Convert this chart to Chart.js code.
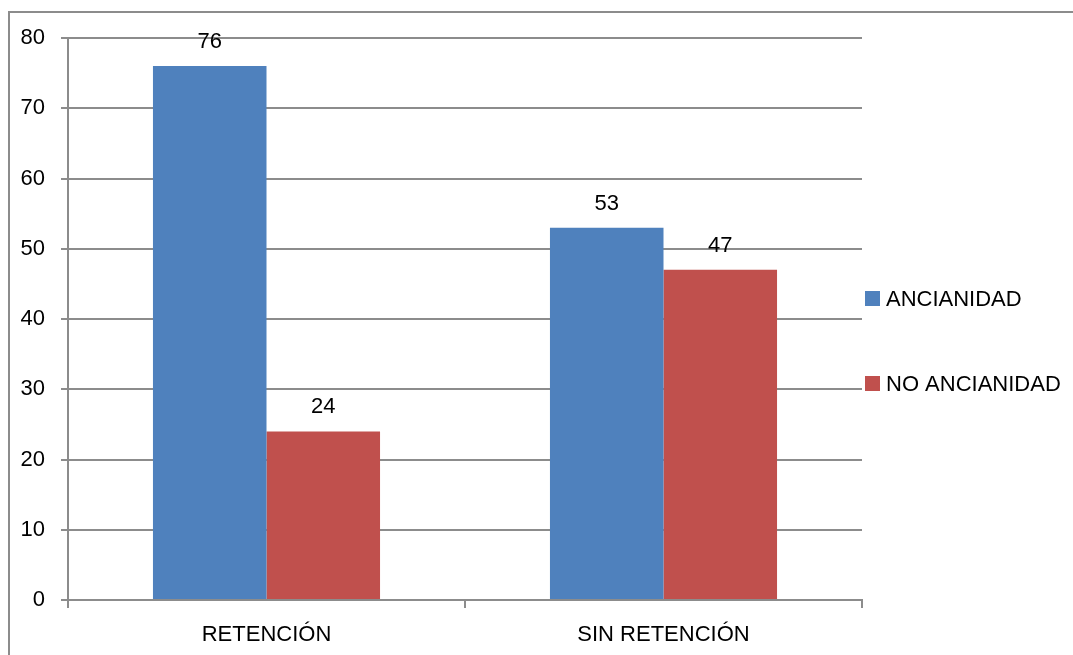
<!DOCTYPE html>
<html>
<head>
<meta charset="utf-8">
<script src="https://cdn.jsdelivr.net/npm/chart.js@4"></script>
<style>
  body { margin: 0; background: #fff; }
  #wrap { position: relative; width: 1073px; height: 655px; overflow: hidden; }
  #marco { position: absolute; left: 8px; top: 11px; width: 1080px; height: 660px;
           border-left: 2px solid #8c8c8c; border-top: 2px solid #8c8c8c; }
  canvas { position: absolute; left: 0; top: 0; }
</style>
</head>
<body>
<div id="wrap">
  <div id="marco"></div>
  <canvas id="grafico" width="1073" height="655"></canvas>
</div>
<script>
// datos del gráfico
const categorias = ['RETENCIÓN', 'SIN RETENCIÓN'];
const ancianidad = [76, 53];
const noAncianidad = [24, 47];
const nombresSeries = ['ANCIANIDAD', 'NO ANCIANIDAD'];
const coloresSeries = ['#4f81bd', '#c0504d'];

const fuente = { family: '"Liberation Sans", Arial, sans-serif', size: 22 };
const gris = '#8c8c8c';

// etiquetas de valor encima de cada barra
const etiquetasValor = {
    id: 'etiquetasValor',
    afterDatasetsDraw(chart) {
        const ctx = chart.ctx;
        ctx.save();
        ctx.font = '22px ' + fuente.family;
        ctx.fillStyle = '#000';
        ctx.textAlign = 'center';
        ctx.textBaseline = 'alphabetic';
        chart.data.datasets.forEach((ds, i) => {
            chart.getDatasetMeta(i).data.forEach((barra, j) => {
                ctx.fillText(String(ds.data[j]), barra.x, barra.y - 18);
            });
        });
        ctx.restore();
    }
};

// leyenda a la derecha, estilo Excel
const leyenda = {
    id: 'leyenda',
    afterDraw(chart) {
        const ctx = chart.ctx;
        const area = chart.chartArea;
        const centro = (area.top + area.bottom) / 2 + 22;
        ctx.save();
        ctx.font = '22px ' + fuente.family;
        ctx.textBaseline = 'middle';
        ctx.textAlign = 'left';
        chart.data.datasets.forEach((ds, i) => {
            const y = centro + (i - 0.5) * 85;
            ctx.fillStyle = ds.backgroundColor;
            ctx.fillRect(area.right + 3, y - 7.5, 15, 15);
            ctx.fillStyle = '#000';
            ctx.fillText(ds.label, area.right + 24, y + 1);
        });
        ctx.restore();
    }
};

const ctx = document.getElementById('grafico').getContext('2d');
const miGrafico = new Chart(ctx, {
    type: 'bar',
    data: {
        labels: categorias,
        datasets: [
            { label: nombresSeries[0], data: ancianidad, backgroundColor: coloresSeries[0] },
            { label: nombresSeries[1], data: noAncianidad, backgroundColor: coloresSeries[1] }
        ]
    },
    options: {
        responsive: false,
        animation: false,
        events: [],
        datasets: { bar: { barPercentage: 1, categoryPercentage: 0.572 } },
        layout: { padding: { top: 38, right: 211, left: 0, bottom: 0 } },
        plugins: { legend: { display: false }, tooltip: { enabled: false } },
        scales: {
            x: {
                afterFit(scale) { scale.height = 55; },
                grid: { offset: true, drawOnChartArea: false, color: gris, lineWidth: 2, tickLength: 8 },
                border: { color: gris, width: 2 },
                ticks: { color: '#000', font: fuente, padding: 14 }
            },
            y: {
                min: 0,
                max: 80,
                afterFit(scale) { scale.width = 68; },
                grid: { color: gris, lineWidth: 2, tickLength: 7 },
                border: { color: gris, width: 2 },
                ticks: { stepSize: 10, color: '#000', font: fuente, padding: 16 }
            }
        }
    },
    plugins: [etiquetasValor, leyenda]
});
</script>
</body>
</html>
